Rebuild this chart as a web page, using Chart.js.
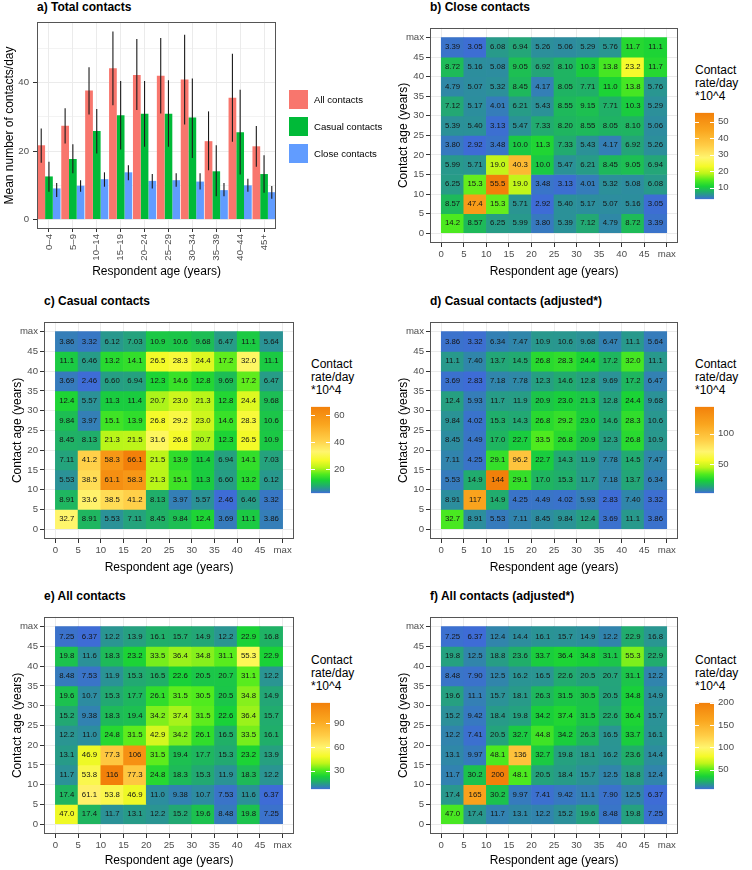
<!DOCTYPE html>
<html>
<head>
<meta charset="utf-8">
<title>Contact rates by age</title>
<script src="https://cdn.jsdelivr.net/npm/chart.js@4.4.0/dist/chart.umd.min.js"></script>
<style>
  body { margin: 0; background: #fff; overflow: hidden; font-family: "Liberation Sans", Arial, sans-serif; }
  #fig { position: relative; width: 752px; height: 870px; }
  #fig canvas { position: absolute; }
  .ttl { position: absolute; font-weight: bold; font-size: 12px; line-height: 14px; white-space: nowrap; color: #000; }
  .cbt { position: absolute; font-size: 12px; line-height: 13px; white-space: nowrap; color: #000; }
  .key { position: absolute; width: 19px; height: 19px; }
  .keytxt { position: absolute; font-size: 9.6px; line-height: 19px; white-space: nowrap; color: #000; }
</style>
</head>
<body>
<div id="fig"></div>
<script>
// ---- panel a: mean contacts/day by respondent age ----
const ageGroups = ["0–4","5–9","10–14","15–19","20–24","25–29","30–34","35–39","40–44","45+"];
const allMean    = [21.7, 27.4, 37.7, 44.2, 42.2, 42.0, 40.9, 22.9, 35.6, 21.4];
const allLow     = [16.6, 22.2, 30.7, 33.4, 32.0, 31.0, 27.8, 14.4, 22.7, 15.4];
const allHigh    = [26.6, 32.5, 44.5, 54.9, 52.7, 53.0, 54.0, 31.6, 48.4, 27.3];
const casualMean = [12.6, 17.7, 25.9, 30.5, 30.9, 30.9, 29.8, 14.1, 25.5, 13.3];
const casualLow  = [8.1, 13.5, 19.3, 20.5, 21.3, 21.3, 18.0, 6.8, 13.2, 7.8];
const casualHigh = [16.9, 22.0, 32.3, 40.5, 40.5, 40.7, 41.2, 21.7, 37.9, 18.8];
const closeMean  = [9.1, 9.9, 11.8, 13.8, 11.3, 11.5, 11.1, 8.6, 10.0, 8.0];
const closeLow   = [6.6, 8.1, 9.6, 11.5, 9.1, 9.6, 8.8, 6.8, 8.1, 6.1];
const closeHigh  = [10.7, 11.5, 13.8, 15.9, 13.3, 13.5, 13.5, 10.7, 11.9, 9.8];
const meanTicks  = [0, 10, 20, 30, 40, 50];   // labelled: 0, 20, 40

// ---- heatmaps: age bands (years), last band is 45-max ----
const ageBreaks = [0, 5, 10, 15, 20, 25, 30, 35, 40, 45, 50];
const ageTickLabels = ["0","5","10","15","20","25","30","35","40","45","max"];

// contact rate/day *10^4; rows = contact age 45-max (top) down to 0-5,
// columns = respondent age 0-5 ... 45-max
const closeRates = [
  [3.39, 3.05, 6.08, 6.94, 5.26, 5.06, 5.29, 5.76, 11.7, 11.1],
  [8.72, 5.16, 5.08, 9.05, 6.92, 8.10, 10.3, 13.8, 23.2, 11.7],
  [4.79, 5.07, 5.32, 8.45, 4.17, 8.05, 7.71, 11.0, 13.8, 5.76],
  [7.12, 5.17, 4.01, 6.21, 5.43, 8.55, 9.15, 7.71, 10.3, 5.29],
  [5.39, 5.40, 3.13, 5.47, 7.33, 8.20, 8.55, 8.05, 8.10, 5.06],
  [3.80, 2.92, 3.48, 10.0, 11.3, 7.33, 5.43, 4.17, 6.92, 5.26],
  [5.99, 5.71, 19.0, 40.3, 10.0, 5.47, 6.21, 8.45, 9.05, 6.94],
  [6.25, 15.3, 55.5, 19.0, 3.48, 3.13, 4.01, 5.32, 5.08, 6.08],
  [8.57, 47.4, 15.3, 5.71, 2.92, 5.40, 5.17, 5.07, 5.16, 3.05],
  [14.2, 8.57, 6.25, 5.99, 3.80, 5.39, 7.12, 4.79, 8.72, 3.39]
];
const closeBreaks = [10, 20, 30, 40, 50];

const casualRates = [
  [3.86, 3.32, 6.12, 7.03, 10.9, 10.6, 9.68, 6.47, 11.1, 5.64],
  [11.1, 6.46, 13.2, 14.1, 26.5, 28.3, 24.4, 17.2, 32.0, 11.1],
  [3.69, 2.46, 6.60, 6.94, 12.3, 14.6, 12.8, 9.69, 17.2, 6.47],
  [12.4, 5.57, 11.3, 11.4, 20.7, 23.0, 21.3, 12.8, 24.4, 9.68],
  [9.84, 3.97, 15.1, 13.9, 26.8, 29.2, 23.0, 14.6, 28.3, 10.6],
  [8.45, 8.13, 21.3, 21.5, 31.6, 26.8, 20.7, 12.3, 26.5, 10.9],
  [7.11, 41.2, 58.3, 66.1, 21.5, 13.9, 11.4, 6.94, 14.1, 7.03],
  [5.53, 38.5, 61.1, 58.3, 21.3, 15.1, 11.3, 6.60, 13.2, 6.12],
  [8.91, 33.6, 38.5, 41.2, 8.13, 3.97, 5.57, 2.46, 6.46, 3.32],
  [32.7, 8.91, 5.53, 7.11, 8.45, 9.84, 12.4, 3.69, 11.1, 3.86]
];
const casualBreaks = [20, 40, 60];

const casualAdjRates = [
  [3.86, 3.32, 6.34, 7.47, 10.9, 10.6, 9.68, 6.47, 11.1, 5.64],
  [11.1, 7.40, 13.7, 14.5, 26.8, 28.3, 24.4, 17.2, 32.0, 11.1],
  [3.69, 2.83, 7.18, 7.78, 12.3, 14.6, 12.8, 9.69, 17.2, 6.47],
  [12.4, 5.93, 11.7, 11.9, 20.9, 23.0, 21.3, 12.8, 24.4, 9.68],
  [9.84, 4.02, 15.3, 14.3, 26.8, 29.2, 23.0, 14.6, 28.3, 10.6],
  [8.45, 4.49, 17.0, 22.7, 33.5, 26.8, 20.9, 12.3, 26.8, 10.9],
  [7.11, 4.25, 29.1, 96.2, 22.7, 14.3, 11.9, 7.78, 14.5, 7.47],
  [5.53, 14.9, 144, 29.1, 17.0, 15.3, 11.7, 7.18, 13.7, 6.34],
  [8.91, 117, 14.9, 4.25, 4.49, 4.02, 5.93, 2.83, 7.40, 3.32],
  [32.7, 8.91, 5.53, 7.11, 8.45, 9.84, 12.4, 3.69, 11.1, 3.86]
];
const casualAdjBreaks = [50, 100];

const allRates = [
  [7.25, 6.37, 12.2, 13.9, 16.1, 15.7, 14.9, 12.2, 22.9, 16.8],
  [19.8, 11.6, 18.3, 23.2, 33.5, 36.4, 34.8, 31.1, 55.3, 22.9],
  [8.48, 7.53, 11.9, 15.3, 16.5, 22.6, 20.5, 20.7, 31.1, 12.2],
  [19.6, 10.7, 15.3, 17.7, 26.1, 31.5, 30.5, 20.5, 34.8, 14.9],
  [15.2, 9.38, 18.3, 19.4, 34.2, 37.4, 31.5, 22.6, 36.4, 15.7],
  [12.2, 11.0, 24.8, 31.5, 42.9, 34.2, 26.1, 16.5, 33.5, 16.1],
  [13.1, 46.9, 77.3, 106, 31.5, 19.4, 17.7, 15.3, 23.2, 13.9],
  [11.7, 53.8, 116, 77.3, 24.8, 18.3, 15.3, 11.9, 18.3, 12.2],
  [17.4, 61.1, 53.8, 46.9, 11.0, 9.38, 10.7, 7.53, 11.6, 6.37],
  [47.0, 17.4, 11.7, 13.1, 12.2, 15.2, 19.6, 8.48, 19.8, 7.25]
];
const allBreaks = [30, 60, 90];

const allAdjRates = [
  [7.25, 6.37, 12.4, 14.4, 16.1, 15.7, 14.9, 12.2, 22.9, 16.8],
  [19.8, 12.5, 18.8, 23.6, 33.7, 36.4, 34.8, 31.1, 55.3, 22.9],
  [8.48, 7.90, 12.5, 16.2, 16.5, 22.6, 20.5, 20.7, 31.1, 12.2],
  [19.6, 11.1, 15.7, 18.1, 26.3, 31.5, 30.5, 20.5, 34.8, 14.9],
  [15.2, 9.42, 18.4, 19.8, 34.2, 37.4, 31.5, 22.6, 36.4, 15.7],
  [12.2, 7.41, 20.5, 32.7, 44.8, 34.2, 26.3, 16.5, 33.7, 16.1],
  [13.1, 9.97, 48.1, 136, 32.7, 19.8, 18.1, 16.2, 23.6, 14.4],
  [11.7, 30.2, 200, 48.1, 20.5, 18.4, 15.7, 12.5, 18.8, 12.4],
  [17.4, 165, 30.2, 9.97, 7.41, 9.42, 11.1, 7.90, 12.5, 6.37],
  [47.0, 17.4, 11.7, 13.1, 12.2, 15.2, 19.6, 8.48, 19.8, 7.25]
];
const allAdjBreaks = [50, 100, 150, 200];

// ---- styling ----
Chart.defaults.font.family = '"Liberation Sans", Arial, Helvetica, sans-serif';
const tickGrey = "#4d4d4d";
const gridGrey = "#ebebeb";
const palette = [
  [0.00, "#3e6cd6"], [0.04, "#2d8ca0"], [0.09, "#20af69"], [0.15, "#19d237"],
  [0.22, "#50eb1e"], [0.30, "#bef519"], [0.38, "#f5fa28"], [0.48, "#fff56e"],
  [0.62, "#ffcd46"], [0.80, "#faa51e"], [1.00, "#f2800a"]
];

function hexRgb(h) {
  return [1, 3, 5].map(i => parseInt(h.slice(i, i + 2), 16));
}
function rateColor(v, lo, hi) {
  const t = (v - lo) / (hi - lo);
  for (let i = 1; i < palette.length; i++) {
    if (t <= palette[i][0]) {
      const [t0, c0] = palette[i - 1], [t1, c1] = palette[i];
      const k = (t - t0) / (t1 - t0);
      const a = hexRgb(c0), b = hexRgb(c1);
      return "rgb(" + a.map((x, j) => Math.round(x + (b[j] - x) * k)).join(",") + ")";
    }
  }
  return palette[palette.length - 1][1];
}

const fig = document.getElementById("fig");
function place(left, top, w, h) {
  const cv = document.createElement("canvas");
  cv.width = w; cv.height = h;
  cv.style.left = left + "px"; cv.style.top = top + "px";
  fig.appendChild(cv);
  return cv;
}
function addText(cls, left, top, html) {
  const d = document.createElement("div");
  d.className = cls;
  d.style.left = left + "px"; d.style.top = top + "px";
  d.innerHTML = html;
  fig.appendChild(d);
  return d;
}

// grey frame round the plotting panel
const panelBox = {
  id: "panelBox",
  afterDraw(chart) {
    const { ctx, chartArea: a } = chart;
    ctx.save();
    ctx.strokeStyle = "#555"; ctx.lineWidth = 1;
    ctx.strokeRect(Math.round(a.left) + 0.5, Math.round(a.top) + 0.5,
                   Math.round(a.right - a.left) - 1, Math.round(a.bottom - a.top) - 1);
    ctx.restore();
  }
};

const errorBars = {
  id: "errorBars",
  afterDatasetsDraw(chart) {
    const { ctx, scales: { y } } = chart;
    ctx.save();
    ctx.strokeStyle = "#1a1a1a"; ctx.lineWidth = 1.1;
    chart.data.datasets.forEach((ds, i) => {
      chart.getDatasetMeta(i).data.forEach((bar, j) => {
        ctx.beginPath();
        ctx.moveTo(bar.x, y.getPixelForValue(ds.errLow[j]));
        ctx.lineTo(bar.x, y.getPixelForValue(ds.errHigh[j]));
        ctx.stroke();
      });
    });
    ctx.restore();
  }
};

const cellLabels = {
  id: "cellLabels",
  afterDatasetsDraw(chart) {
    const ctx = chart.ctx;
    ctx.save();
    ctx.font = '7.8px "Liberation Sans", Arial, sans-serif';
    ctx.fillStyle = "#151515";
    ctx.textAlign = "center"; ctx.textBaseline = "middle";
    chart.data.datasets.forEach((ds, i) => {
      chart.getDatasetMeta(i).data.forEach((cell, j) => {
        ctx.fillText(ds.rates[j].toPrecision(3), cell.x, (cell.y + cell.base) / 2);
      });
    });
    ctx.restore();
  }
};

// white tick marks inside the colour bar
const barTicks = {
  id: "barTicks",
  afterDatasetsDraw(chart) {
    const { ctx, chartArea: a, scales: { y } } = chart;
    ctx.save();
    ctx.strokeStyle = "#fff"; ctx.lineWidth = 1;
    y.ticks.forEach(t => {
      const py = Math.round(y.getPixelForValue(t.value)) + 0.5;
      ctx.beginPath();
      ctx.moveTo(a.left, py); ctx.lineTo(a.left + 4, py);
      ctx.moveTo(a.right - 4, py); ctx.lineTo(a.right, py);
      ctx.stroke();
    });
    ctx.restore();
  }
};

// ---- a) Total contacts ----
addText("ttl", 37, 0, "a) Total contacts");
new Chart(place(0, 0, 290, 285), {
  type: "bar",
  data: {
    labels: ageGroups,
    datasets: [
      { label: "All contacts", data: allMean, errLow: allLow, errHigh: allHigh, backgroundColor: "#F8766D" },
      { label: "Casual contacts", data: casualMean, errLow: casualLow, errHigh: casualHigh, backgroundColor: "#00BA38" },
      { label: "Close contacts", data: closeMean, errLow: closeLow, errHigh: closeHigh, backgroundColor: "#619CFF" }
    ]
  },
  options: {
    responsive: false, animation: false, devicePixelRatio: 1, events: [],
    categoryPercentage: 0.97, barPercentage: 1,
    layout: { padding: { left: 0, top: 22, right: 14, bottom: 6 } },
    plugins: { legend: { display: false }, tooltip: { enabled: false } },
    scales: {
      x: {
        offset: true,
        afterFit: ax => { ax.height = 50; },
        grid: { color: gridGrey, offset: false, tickLength: 3, tickColor: "#333" },
        border: { display: false },
        ticks: { autoSkip: false, minRotation: 90, maxRotation: 90, padding: 2, color: tickGrey, font: { size: 9.6 } },
        title: { display: true, text: "Respondent age (years)", color: "#000", font: { size: 12 }, padding: { top: 0, bottom: 0 } }
      },
      y: {
        min: -2.75, max: 57.7,
        afterBuildTicks: ax => { ax.ticks = meanTicks.map(v => ({ value: v })); },
        afterFit: ax => { ax.width = 37; },
        grid: {
          color: gridGrey, tickLength: 4,
          lineWidth: c => (c.tick && c.tick.value % 20 === 0 ? 1 : 0.6),
          tickColor: c => (c.tick && c.tick.value % 20 === 0 ? "#333" : "rgba(0,0,0,0)")
        },
        border: { display: false },
        ticks: { padding: 4, color: tickGrey, font: { size: 9.6 }, callback: v => (v % 20 === 0 ? String(v) : "") },
        title: { display: true, text: "Mean number of contacts/day", color: "#000", font: { size: 12 }, padding: { top: 2, bottom: 2 } }
      }
    }
  },
  plugins: [errorBars, panelBox]
});

// legend for panel a
[["All contacts", "#F8766D"], ["Casual contacts", "#00BA38"], ["Close contacts", "#619CFF"]].forEach(([name, col], i) => {
  const top = 89.5 + i * 27;
  const k = addText("key", 289, top, "");
  k.style.background = col;
  addText("keytxt", 314, top, name);
});

// ---- heatmaps ----
function ageAxis(title, size) {
  return {
    type: "linear", min: -2.5, max: 52.5, offset: false,
    afterBuildTicks: ax => { ax.ticks = ageBreaks.map(v => ({ value: v })); },
    afterFit: ax => { if (ax.isHorizontal()) ax.height = size; else ax.width = size; },
    grid: { color: gridGrey, offset: false, tickLength: 4, tickColor: "#333" },
    border: { display: false },
    ticks: { autoSkip: false, maxRotation: 0, padding: 2, color: tickGrey, font: { size: 9.6 },
             callback: v => ageTickLabels[ageBreaks.indexOf(v)] },
    title: { display: true, text: title, color: "#000", font: { size: 12 }, padding: { top: 2, bottom: 2 } }
  };
}

function heatmap(p) {
  const flat = p.rates.flat();
  const lo = Math.min(...flat), hi = Math.max(...flat);
  const nRows = p.rates.length;
  const datasets = p.rates.map((row, r) => {
    const band = nRows - 1 - r;
    return {
      rates: row,
      data: row.map((v, j) => ({ x: (ageBreaks[j] + ageBreaks[j + 1]) / 2, y: [ageBreaks[band], ageBreaks[band + 1]] })),
      backgroundColor: row.map(v => rateColor(v, lo, hi)),
      borderWidth: 0, barPercentage: 1, categoryPercentage: 1, grouped: false
    };
  });

  addText("ttl", p.left + 36, p.titleTop, p.title);
  new Chart(place(p.left, p.top, p.w, p.h), {
    type: "bar",
    data: { datasets },
    options: {
      responsive: false, animation: false, devicePixelRatio: 1, events: [],
      layout: { padding: { left: 0, top: 3, right: 3, bottom: 0 } },
      plugins: { legend: { display: false }, tooltip: { enabled: false } },
      scales: {
        x: ageAxis("Respondent age (years)", p.xAxisH),
        y: ageAxis("Contact age (years)", 36)
      }
    },
    plugins: [cellLabels, panelBox]
  });

  // colour bar legend
  addText("cbt", p.cbLeft, p.cbTop - 45, "Contact<br>rate/day<br>*10^4");
  new Chart(place(p.cbLeft, p.cbTop - 6, 49, 106), {
    type: "bar",
    data: {
      labels: [""],
      datasets: [{
        data: [[lo, hi]],
        backgroundColor: c => {
          const a = c.chart.chartArea;
          if (!a) return palette[0][1];
          const g = c.chart.ctx.createLinearGradient(0, a.bottom, 0, a.top);
          palette.forEach(([t, col]) => g.addColorStop(t, col));
          return g;
        },
        borderWidth: 0, barPercentage: 1, categoryPercentage: 1
      }]
    },
    options: {
      responsive: false, animation: false, devicePixelRatio: 1, events: [],
      layout: { padding: { left: 0, top: 6, right: 0, bottom: 6 } },
      plugins: { legend: { display: false }, tooltip: { enabled: false } },
      scales: {
        x: { display: false },
        y: {
          position: "right", min: lo, max: hi,
          afterBuildTicks: ax => { ax.ticks = p.breaks.map(v => ({ value: v })); },
          afterFit: ax => { ax.width = 30; },
          grid: { display: false, drawTicks: false },
          border: { display: false },
          ticks: { padding: 4, color: tickGrey, font: { size: 9.6 } }
        }
      }
    },
    plugins: [barTicks]
  });
}

const heatPanels = [
  { title: "b) Close contacts", rates: closeRates, breaks: closeBreaks,
    left: 394, top: 20, w: 287, h: 261, xAxisH: 38, titleTop: 0, cbLeft: 695, cbTop: 109 },
  { title: "c) Casual contacts", rates: casualRates, breaks: casualBreaks,
    left: 8, top: 314, w: 289, h: 263, xAxisH: 38, titleTop: 294, cbLeft: 311, cbTop: 403 },
  { title: "d) Casual contacts (adjusted*)", rates: casualAdjRates, breaks: casualAdjBreaks,
    left: 394, top: 314, w: 287, h: 263, xAxisH: 38, titleTop: 294, cbLeft: 695, cbTop: 403 },
  { title: "e) All contacts", rates: allRates, breaks: allBreaks,
    left: 8, top: 609, w: 289, h: 261, xAxisH: 36, titleTop: 589, cbLeft: 311, cbTop: 699 },
  { title: "f) All contacts (adjusted*)", rates: allAdjRates, breaks: allAdjBreaks,
    left: 394, top: 609, w: 287, h: 261, xAxisH: 36, titleTop: 589, cbLeft: 695, cbTop: 699 }
];
heatPanels.forEach(heatmap);
</script>
</body>
</html>
